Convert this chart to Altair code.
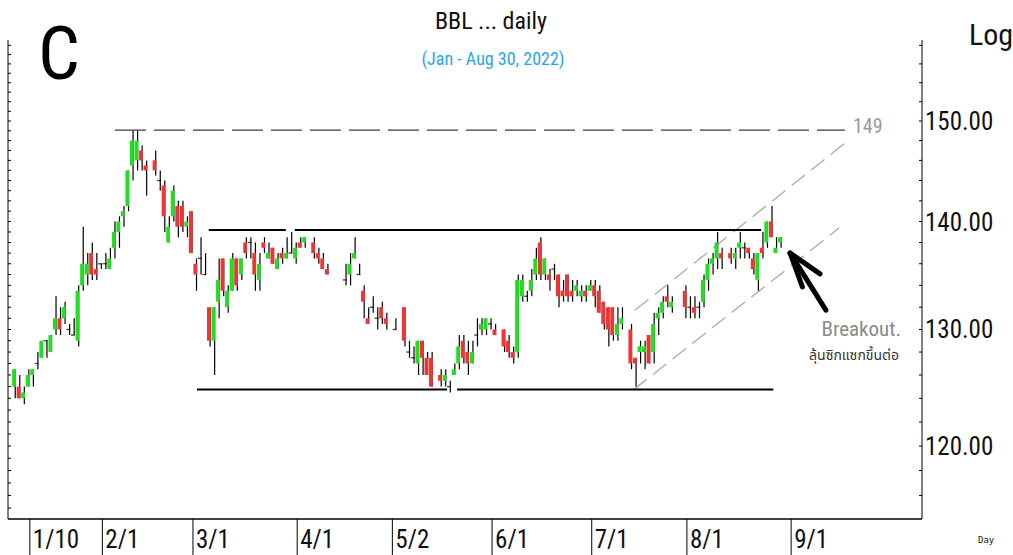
import altair as alt
import pandas as pd

# ---- data: one slot per weekday, index 0 = Mon 3 Jan 2022 (None = no trading) ----
opens = [None, None,
 125, 125, 124, 125, 126, 127, 127.5, 129, 128, 130, 131, 131, 130, 129.5, 129, 134, 135, 137, 135.5,
 136, 136, 135.5, 137.5, 139, 140.5, 141.5, 145.5, 146, 147, 145.5, None, 146, 144, 143.5, 138, 140.5,
 141.5, 141.5, 139.5, 141, 136, 136.5, 135, 132, 129, 132.5, 136.5, 132, 133.5, 136.5, 135, 138, 138,
 137, 134.5, 138, 136.5, 137.5, 135.5, 137, 136.5, 137, 136.5, 138, 138, None, 138, 137, 136.5, 135.5,
 None, None, None, 134.5, 135, 136.5, 135, 133.5, 131, 132, 131, 132, 131, None, 130, None, 132, 128,
 127.5, 127, 129, 127.5, 127.5, None, 126, 125.5, 125, 126, 127, 129, 128, 127, 129.5, 130, 130, 130.5,
 130, None, 130, 129, 128, 128, 133, 133, 133.5, 135, 138, 135, 135, 135.5, 135, 133.5, 135, 133.5,
 133.5, 133, 133.5, 133.5, 134, 133.5, 132.5, 132, 132, 129.5, 130.5, None, 130, 127.5, 128, 128, 129.5,
 128, 131, 131.5, 133, 132, None, None, 133.5, 132, 132, 132, 132.5, 134.5, 136, 136.5, 137, None, 137,
 136.5, 137.5, 137.5, 137.5, 136.5, 134.5, 137.5, 138, 140, 137, 138]
highs = [None, None,
 126.5, 126, 125, 126.5, 126.5, 128, 129, 129, 129.5, 133, 132, 132.5, 130.5, 131, 134, 139.5, 137, 138, 137,
 136, 137, 137.5, 140, 140.5, 141.5, 145, 149, 149, 147.5, 146, None, 147, 145, 144, 140.5, 143.5,
 142, 142, 140.5, 141, 136.5, 138.5, 137, 132, 132, 136.5, 136.5, 134, 137, 136.5, 136.5, 138.5, 138.5,
 138, 137, 138.5, 138, 137.5, 137, 137.5, 138.5, 139, 138, 138.5, 138.5, None, 138.5, 137.5, 137, 136,
 None, None, None, 136, 137, 138.5, 136, 134, 132, 133, 132, 132.5, 131.5, None, 131, None, 132, 129,
 128.5, 129, 129, 128, 128, None, 126.5, 126.5, 125.5, 127, 129.5, 129.5, 129, 129, 131, 131, 131, 131,
 130.5, None, 130, 129.5, 128.5, 135, 135, 133.5, 135.5, 137.5, 138.5, 136.5, 135.5, 136, 135, 134.5, 135, 134.5,
 134.5, 134, 134, 134.5, 134.5, 134, 132.5, 132, 132, 132, 132, None, 130.5, 127.5, 129, 129, 129.5,
 131.5, 132, 133, 134, 133, None, None, 134, 133, 133, 132.5, 135, 136.5, 137, 139, 137.5, None, 137.5,
 137.5, 139, 138, 137.5, 137, 137, 139, 140, 141.5, 138.5, 138.5]
lows = [None, None,
 124, 124, 123.5, 125, 125, 126.5, 127.5, 127.5, 128, 129.5, 129.5, 130.5, 129.5, 129.5, 128.5, 133.5, 134, 134.5, 134.5,
 135.5, 135.5, 135.5, 136.5, 137.5, 139.5, 141, 144, 145, 145, 142.5, None, 144.5, 143, 139, 138, 140,
 138.5, 139, 138.5, 137, 133.5, 135, 135, 128.5, 126, 131, 133, 131.5, 133.5, 133.5, 134.5, 136.5, 136.5,
 133.5, 133.5, 137, 136.5, 136, 135.5, 136, 136.5, 137, 136, 137.5, 137.5, None, 136.5, 136, 135.5, 135,
 None, None, None, 134, 134, 136.5, 135, 131, 130.5, 131.5, 130, 130.5, 130, None, 130, None, 128.5, 127.5,
 127, 126, 126, 126, 125, None, 125, 125, 124.5, 126, 126.5, 127, 126, 127, 128.5, 129.5, 129.5, 130,
 129.5, None, 128, 127.5, 127, 127.5, 132.5, 132.5, 133, 134.5, 134.5, 134.5, 133.5, 134.5, 132, 132.5, 132.5, 132.5,
 133, 132.5, 132.5, 133.5, 132, 131.5, 130, 128.5, 129, 129, 130, None, 126.5, 125, 127, 126.5, 127,
 127, 129.5, 131, 132, 131.5, None, None, 131, 131, 131, 131, 132, 133.5, 135, 135.5, 135.5, None, 136,
 135.5, 136.5, 136.5, 136.5, 135, 133.5, 136.5, 137.5, 138.5, 137, 137.5]
closes = [None, None,
 126.5, 124, 124.5, 126, 126.5, 127, 129, 129, 129.5, 131, 130, 132, 130, 129.5, 133.5, 136, 136, 135, 135,
 136, 136, 136.5, 139, 140, 141, 145, 148, 148, 146, 145, None, 145, 144, 140.5, 139.5, 143,
 139.5, 139.5, 140, 137, 135, 136.5, 135, 129, 132, 134.5, 133.5, 133.5, 136.5, 134, 136.5, 137, 138,
 135, 136, 137.5, 137, 136, 136.5, 136.5, 137, 137, 137.5, 137.5, 138.5, None, 137, 136.5, 135.5, 135,
 None, None, None, 134.5, 136, 137, 135, 132.5, 130.5, 132, 131, 131, 130.5, None, 130, None, 129, 128,
 127.5, 129, 127.5, 126, 125, None, 125.5, 126, 125, 126.5, 128.5, 127.5, 127, 128, 129.5, 130.5, 131, 130.5,
 129.5, None, 128.5, 128, 127.5, 134.5, 134.5, 133, 134.5, 136.5, 135, 136.5, 134.5, 135.5, 133, 133, 133, 133,
 134, 133.5, 133, 134, 133, 131.5, 130.5, 130, 129.5, 130.5, 131, None, 127, 127, 128.5, 128.5, 127,
 130.5, 131.5, 132.5, 132.5, 132.5, None, None, 132, 132, 131.5, 132, 134.5, 136, 136.5, 138, 136.5, None, 136.5,
 137, 138, 137.5, 137, 135.5, 137, 137, 140, 138.5, 137.5, 138.5]

tick_days = [5, 21, 41, 64, 85, 107, 129, 150, 173]
tick_labels = ["1/10", "2/1", "3/1", "4/1", "5/2", "6/1", "7/1", "8/1", "9/1"]
price_labels = [120, 130, 140, 150]
right_ticks = list(range(116, 160, 2))
left_ticks = list(range(115, 159, 1))

# annotation lines: (day_start, price_start, day_end, price_end)
solid_lines = [(44.7, 139.18, 61.7, 139.18), (63.7, 139.18, 166.6, 139.18),
               (42.1, 124.76, 97.3, 124.76), (99.5, 124.76, 169.3, 124.76)]
level_149 = [(24.0, 149.07, 185.1, 149.07)]
channel = [(138.4, 124.72, 183.8, 139.37), (138.8, 131.74, 185.4, 147.85)]
arrow = [(173.0, 137.0, 180.9, 131.74), (173.0, 137.0, 179.6, 135.06), (173.0, 137.0, 175.7, 133.86)]

# ---- layout ----
W, H = 914, 479
FONT = "Liberation Sans Narrow, Arial Narrow, Roboto Condensed, Liberation Sans, Arial, sans-serif"
GREEN, RED = "#22dd22", "#ee3535"

xs = alt.Scale(domain=[0.4, 202.1], nice=False, zero=False)
ys = alt.Scale(type="log", domain=[114.14, 158.58], nice=False, zero=False)

n = len(opens)
df = pd.DataFrame({"d": list(range(n)), "o": opens, "h": highs, "l": lows, "c": closes}).dropna()
df["dir"] = ["up" if c > o else ("down" if c < o else "flat") for o, c in zip(df.o, df.c)]

X = alt.X("d:Q", scale=xs, axis=None)

wick = alt.Chart(df).mark_rule(color="black", strokeWidth=1.2).encode(
    x=X, y=alt.Y("l:Q", scale=ys, axis=None), y2="h:Q")
body = alt.Chart(df[df.dir != "flat"]).mark_rule(strokeWidth=3.8, xOffset=-1.2).encode(
    x=X, y=alt.Y("o:Q", scale=ys, axis=None), y2="c:Q",
    color=alt.Color("dir:N", scale=alt.Scale(domain=["up", "down"], range=[GREEN, RED]), legend=None))
doji = alt.Chart(df[df.dir == "flat"]).mark_tick(orient="horizontal", size=4, thickness=1.4,
                                                   color="black", xOffset=-1.2).encode(
    x=X, y=alt.Y("o:Q", scale=ys, axis=None))


def seg_df(rows):
    return pd.DataFrame(rows, columns=["d1", "p1", "d2", "p2"])


def seg_layer(rows, **kw):
    return alt.Chart(seg_df(rows)).mark_rule(**kw).encode(
        x=alt.X("d1:Q", scale=xs, axis=None), x2="d2:Q",
        y=alt.Y("p1:Q", scale=ys, axis=None), y2="p2:Q")


solid = seg_layer(solid_lines, color="black", strokeWidth=2)
lvl = seg_layer(level_149, color="#3c3c3c", strokeWidth=1.4, strokeDash=[31, 8])
chan = seg_layer(channel, color="#aaaaaa", strokeWidth=1.3, strokeDash=[17, 8])
arr = seg_layer(arrow, color="black", strokeWidth=5, strokeCap="round")

# frame
one = pd.DataFrame({"k": [0]})
frame_left = alt.Chart(one).mark_rule(color="black", strokeWidth=1).encode(
    x=alt.value(0), y=alt.value(0), y2=alt.value(H))
frame_right = alt.Chart(one).mark_rule(color="black", strokeWidth=1).encode(
    x=alt.value(W), y=alt.value(0), y2=alt.value(H))
frame_bottom = alt.Chart(one).mark_rule(color="black", strokeWidth=1.5).encode(
    x=alt.value(0), x2=alt.value(W), y=alt.value(H))

lt = alt.Chart(pd.DataFrame({"p": left_ticks})).mark_rule(color="black").encode(
    y=alt.Y("p:Q", scale=ys, axis=None), x=alt.value(0), x2=alt.value(3))
rt = alt.Chart(pd.DataFrame({"p": right_ticks})).mark_rule(color="black").encode(
    y=alt.Y("p:Q", scale=ys, axis=None), x=alt.value(W - 3), x2=alt.value(W))
plab = alt.Chart(pd.DataFrame({"p": price_labels, "t": [f"{v:.2f}" for v in price_labels]})).mark_text(
    align="left", baseline="middle", font=FONT, fontSize=25, color="#111111", dy=1).encode(
    y=alt.Y("p:Q", scale=ys, axis=None), x=alt.value(W + 3), text="t:N")

xdf = pd.DataFrame({"d": tick_days, "t": tick_labels})
xt = alt.Chart(xdf).mark_rule(color="black", strokeWidth=1, xOffset=1).encode(
    x=X, y=alt.value(H), y2=alt.value(H + 36))
xl = alt.Chart(xdf).mark_text(align="left", baseline="middle", font=FONT, fontSize=25,
                              color="#111111", dx=4).encode(
    x=X, y=alt.value(H + 21), text="t:N")


def label(text, x, y, **kw):
    return alt.Chart(pd.DataFrame({"t": [text]})).mark_text(**kw).encode(
        x=alt.value(x), y=alt.value(y), text="t:N")


texts = [
    label("C", 51, 39, font=FONT, fontSize=74, align="center", baseline="alphabetic", color="black"),
    label("BBL ... daily", 483, -11, font=FONT, fontSize=24, align="center", baseline="alphabetic", color="#111111"),
    label("(Jan - Aug 30, 2022)", 485, 25, font=FONT, fontSize=18, align="center", baseline="alphabetic", color="#2aa6e6"),
    label("Log", 961, 5, font=FONT, fontSize=30, align="left", baseline="alphabetic", color="#111111"),
    label("Day", 970, 503, font="DejaVu Sans Mono", fontSize=9, align="left", baseline="alphabetic", color="#111111"),
    label("149", 845, 87, font=FONT, fontSize=20, align="left", baseline="middle", color="#9a9a9a"),
    label("Breakout.", 893, 290, font=FONT, fontSize=21, align="right", baseline="middle", color="#8a8a8a"),
    label("ลุ้นซิกแซกขึ้นต่อ", 891, 316, font="Noto Sans Thai, Tahoma, Loma, sans-serif", fontSize=14,
          align="right", baseline="middle", color="#333333"),
]

chart = alt.layer(
    lvl, chan, solid, wick, body, doji, arr,
    frame_left, frame_right, frame_bottom, lt, rt, plab, xt, xl, *texts
).properties(
    width=W, height=H,
    padding={"left": 8, "top": 40, "right": 91, "bottom": 36},
    autosize=alt.AutoSizeParams(type="none"),
    background="white",
).configure_view(stroke=None)

chart.save("out.html", embed_options={"renderer": "svg", "actions": False})
